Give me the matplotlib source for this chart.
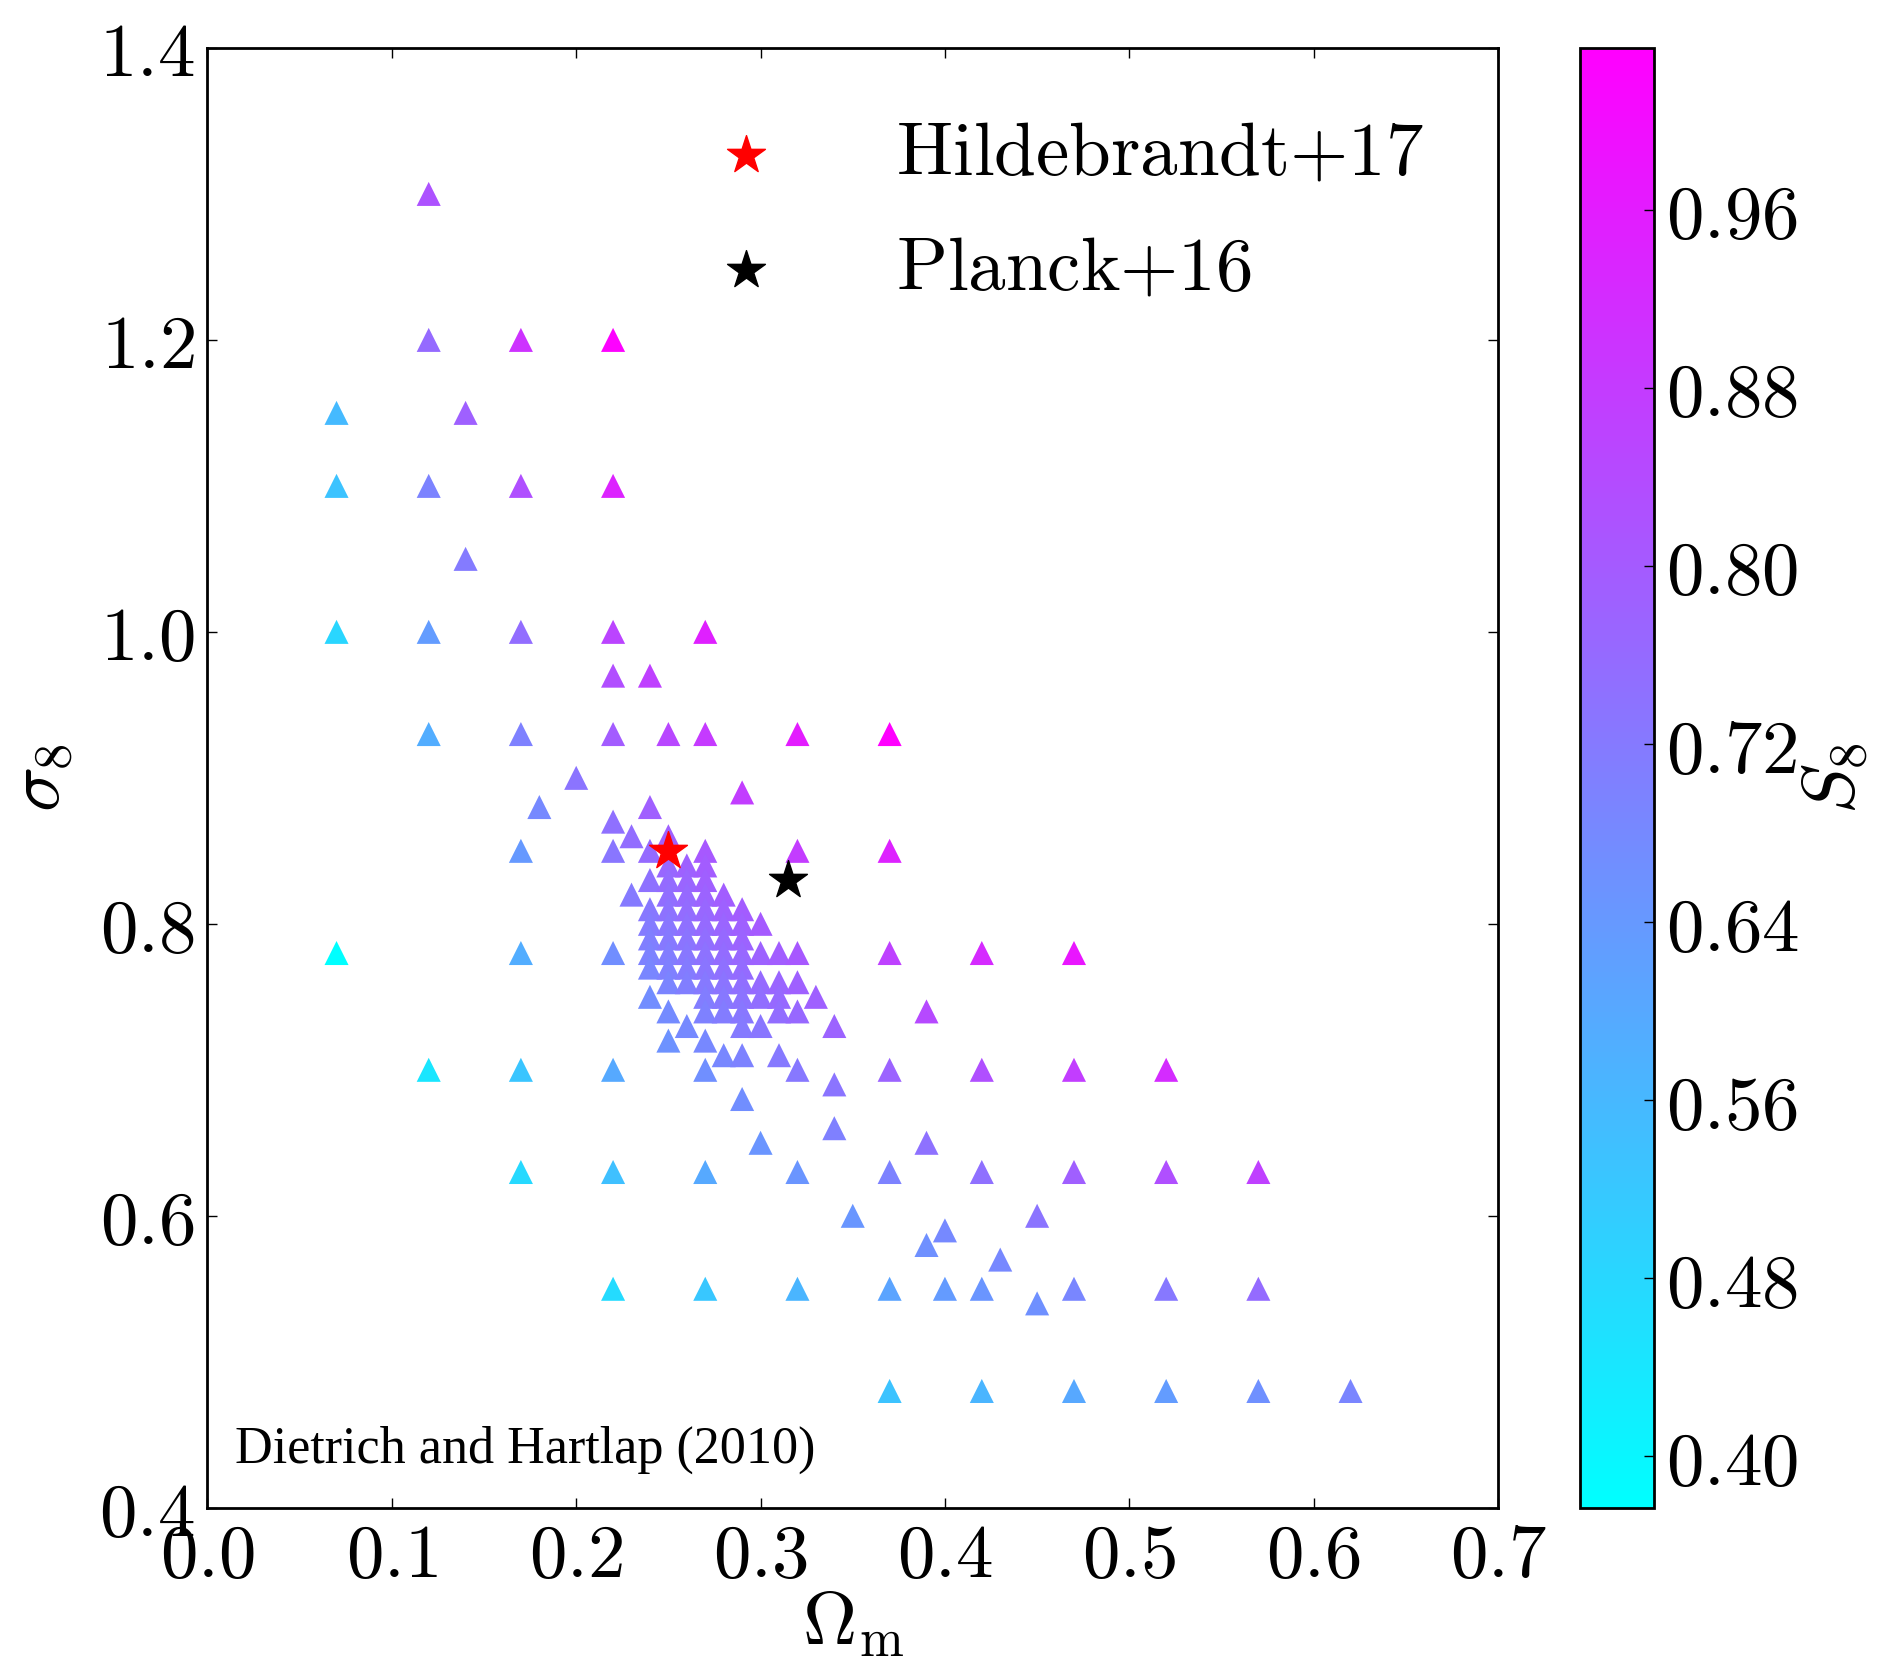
import numpy as np
import matplotlib
matplotlib.use("Agg")
import matplotlib.pyplot as plt
from matplotlib.ticker import FixedLocator, FormatStrFormatter

plt.rcParams["mathtext.fontset"] = "cm"
plt.rcParams["axes.unicode_minus"] = False

# Simulation cosmologies (Dietrich & Hartlap 2010), listed row by row in sigma_8
omega_m = [
    0.12,
    0.12, 0.17, 0.22,
    0.07, 0.14,
    0.07, 0.12, 0.17, 0.22,
    0.14,
    0.07, 0.12, 0.17, 0.22, 0.27,
    0.22, 0.24,
    0.12, 0.17, 0.22, 0.25, 0.27, 0.32, 0.37,
    0.20,
    0.29,
    0.18, 0.24,
    0.22,
    0.23, 0.25,
    0.17, 0.22, 0.24, 0.27, 0.32, 0.37,
    0.25, 0.26, 0.27,
    0.24, 0.25, 0.26, 0.27,
    0.23, 0.25, 0.26, 0.27, 0.28,
    0.24, 0.25, 0.26, 0.27, 0.28, 0.29,
    0.24, 0.25, 0.26, 0.27, 0.28, 0.29, 0.30,
    0.24, 0.25, 0.26, 0.27, 0.28, 0.29,
    0.07, 0.17, 0.22, 0.24, 0.25, 0.26, 0.27, 0.28, 0.29, 0.30, 0.31, 0.32, 0.37, 0.42, 0.47,
    0.24, 0.25, 0.26, 0.27, 0.28, 0.29,
    0.25, 0.26, 0.27, 0.28, 0.29, 0.30, 0.31, 0.32,
    0.24, 0.27, 0.28, 0.29, 0.30, 0.31, 0.33,
    0.25, 0.27, 0.28, 0.29, 0.31, 0.32, 0.39,
    0.26, 0.29, 0.30, 0.34,
    0.25, 0.27,
    0.28, 0.29, 0.31,
    0.12, 0.17, 0.22, 0.27, 0.32, 0.37, 0.42, 0.47, 0.52,
    0.34,
    0.29,
    0.34,
    0.30, 0.39,
    0.17, 0.22, 0.27, 0.32, 0.37, 0.42, 0.47, 0.52, 0.57,
    0.35, 0.45,
    0.40,
    0.39,
    0.43,
    0.22, 0.27, 0.32, 0.37, 0.40, 0.42, 0.47, 0.52, 0.57,
    0.45,
    0.37, 0.42, 0.47, 0.52, 0.57, 0.62,
]
sigma_8 = [
    1.30,
    1.20, 1.20, 1.20,
    1.15, 1.15,
    1.10, 1.10, 1.10, 1.10,
    1.05,
    1.00, 1.00, 1.00, 1.00, 1.00,
    0.97, 0.97,
    0.93, 0.93, 0.93, 0.93, 0.93, 0.93, 0.93,
    0.90,
    0.89,
    0.88, 0.88,
    0.87,
    0.86, 0.86,
    0.85, 0.85, 0.85, 0.85, 0.85, 0.85,
    0.84, 0.84, 0.84,
    0.83, 0.83, 0.83, 0.83,
    0.82, 0.82, 0.82, 0.82, 0.82,
    0.81, 0.81, 0.81, 0.81, 0.81, 0.81,
    0.80, 0.80, 0.80, 0.80, 0.80, 0.80, 0.80,
    0.79, 0.79, 0.79, 0.79, 0.79, 0.79,
    0.78, 0.78, 0.78, 0.78, 0.78, 0.78, 0.78, 0.78, 0.78, 0.78, 0.78, 0.78, 0.78, 0.78, 0.78,
    0.77, 0.77, 0.77, 0.77, 0.77, 0.77,
    0.76, 0.76, 0.76, 0.76, 0.76, 0.76, 0.76, 0.76,
    0.75, 0.75, 0.75, 0.75, 0.75, 0.75, 0.75,
    0.74, 0.74, 0.74, 0.74, 0.74, 0.74, 0.74,
    0.73, 0.73, 0.73, 0.73,
    0.72, 0.72,
    0.71, 0.71, 0.71,
    0.70, 0.70, 0.70, 0.70, 0.70, 0.70, 0.70, 0.70, 0.70,
    0.69,
    0.68,
    0.66,
    0.65, 0.65,
    0.63, 0.63, 0.63, 0.63, 0.63, 0.63, 0.63, 0.63, 0.63,
    0.60, 0.60,
    0.59,
    0.58,
    0.57,
    0.55, 0.55, 0.55, 0.55, 0.55, 0.55, 0.55, 0.55, 0.55,
    0.54,
    0.48, 0.48, 0.48, 0.48, 0.48, 0.48,
]

# Reference measurements
hildebrandt17 = (0.25, 0.85)
planck16 = (0.315, 0.83)

x_ticks = [0.0, 0.1, 0.2, 0.3, 0.4, 0.5, 0.6, 0.7]
y_ticks = [0.4, 0.6, 0.8, 1.0, 1.2, 1.4]
cbar_ticks = [0.40, 0.48, 0.56, 0.64, 0.72, 0.80, 0.88, 0.96]

om = np.array(omega_m)
s8 = np.array(sigma_8)
S8 = s8 * np.sqrt(om / 0.3)

fig = plt.figure(figsize=(18.81, 16.64), dpi=100)
ax = fig.add_axes([0.1103, 0.0939, 0.6861, 0.8773])
cax = fig.add_axes([0.840, 0.0939, 0.0393, 0.8773])

sc = ax.scatter(om, s8, c=S8, cmap="cool", marker="^", s=300,
                edgecolors="none", zorder=2)
ax.scatter(*hildebrandt17, marker="*", s=820, color="red", edgecolors="red",
           zorder=3, label=r"$\mathrm{Hildebrandt}{+}\mathrm{17}$")
ax.scatter(*planck16, marker="*", s=820, color="black", edgecolors="black",
           zorder=3, label=r"$\mathrm{Planck}{+}\mathrm{16}$")

ax.set_xlim(0.0, 0.7)
ax.set_ylim(0.4, 1.4)
ax.xaxis.set_major_locator(FixedLocator(x_ticks))
ax.yaxis.set_major_locator(FixedLocator(y_ticks))
ax.xaxis.set_major_formatter(FormatStrFormatter(r"$%.1f$"))
ax.yaxis.set_major_formatter(FormatStrFormatter(r"$%.1f$"))
ax.tick_params(direction="in", top=True, right=True, length=7, width=1,
               labelsize=54, pad=9)
for sp in ax.spines.values():
    sp.set_linewidth(2)

ax.set_xlabel(r"$\Omega_{\rm m}$", fontsize=54, labelpad=-4)
ax.set_ylabel(r"$\sigma_8$", fontsize=54, labelpad=17)

ax.text(0.021, 0.031, "Dietrich and Hartlap (2010)", transform=ax.transAxes,
        fontsize=37.5, family="Liberation Serif", va="baseline", ha="left")

ax.legend(loc="upper left", bbox_to_anchor=(0.388, 0.952), frameon=False,
          fontsize=54, scatterpoints=1, handlelength=1.0, handletextpad=1.5,
          borderpad=0, borderaxespad=0, labelspacing=0.56)

cb = fig.colorbar(sc, cax=cax)
cb.set_ticks(cbar_ticks)
cb.ax.yaxis.set_major_formatter(FormatStrFormatter(r"$%.2f$"))
cb.ax.tick_params(direction="in", length=7, width=1, labelsize=54, pad=9)
cb.outline.set_linewidth(2)
cb.set_label(r"$S_8$", fontsize=54)
cb.ax.yaxis.set_label_coords(2.95, 0.5)

fig.savefig("out.png", dpi=100)
